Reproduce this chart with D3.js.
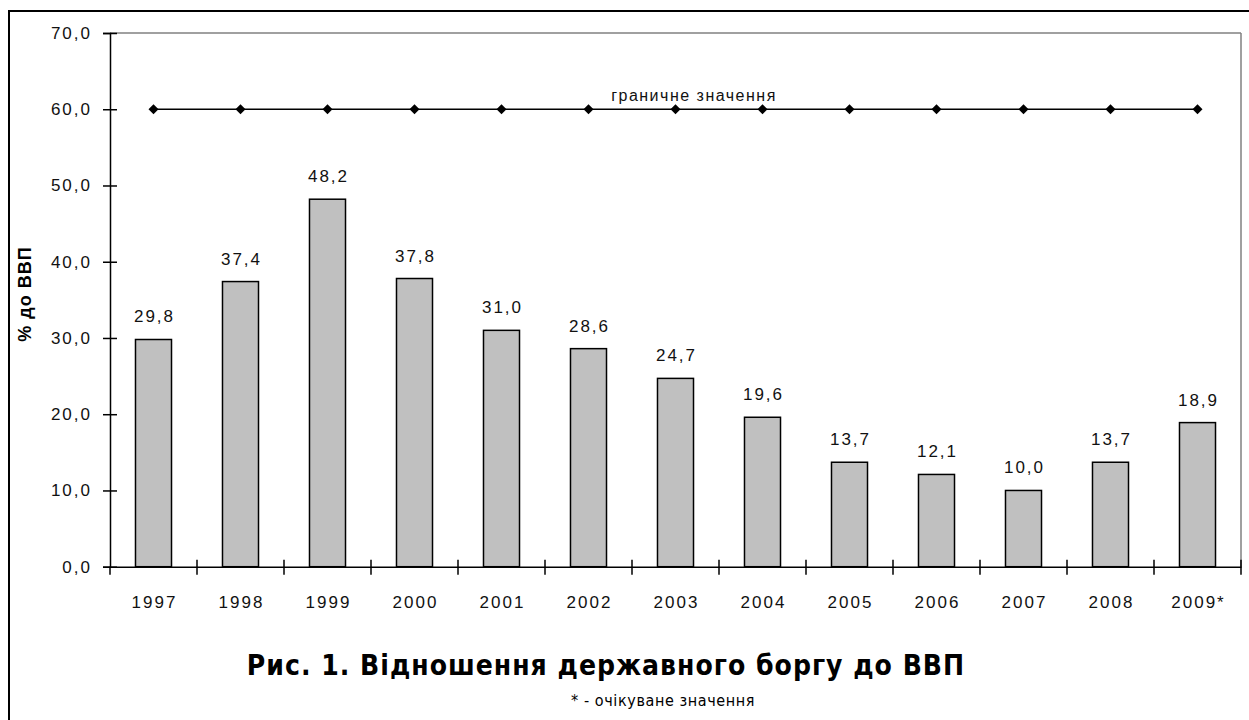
<!DOCTYPE html>
<html>
<head>
<meta charset="utf-8">
<title>Відношення державного боргу до ВВП</title>
<script src="https://d3js.org/d3.v7.min.js"></script>
<style type="text/css">
  body { margin:0; background:white; }
  #chart { position:absolute; top:0; left:0; }
  text { font-family: "Liberation Sans", Arial, sans-serif; }
</style>
</head>
<body>
<div id="chart"></div>
<script type="text/javascript">

var years = ["1997","1998","1999","2000","2001","2002","2003","2004","2005","2006","2007","2008","2009*"];
var debt = [29.8, 37.4, 48.2, 37.8, 31.0, 28.6, 24.7, 19.6, 13.7, 12.1, 10.0, 13.7, 18.9];
var limit = [60,60,60,60,60,60,60,60,60,60,60,60,60];
var yTicks = [0,10,20,30,40,50,60,70];

var width = 1249, height = 720;
var plotLeft = 110, plotRight = 1241, plotTop = 33, plotBottom = 566.7;

var svg = d3.select("#chart").append("svg")
    .attr("width", width)
    .attr("height", height);

svg.append("rect").attr("width", width).attr("height", height).attr("fill", "white");

// outer frame (runs off the right and bottom edges)
svg.append("rect")
   .attr("x", 9).attr("y", 11)
   .attr("width", 1300).attr("height", 800)
   .attr("fill", "none").attr("stroke", "black").attr("stroke-width", 2);

var x = d3.scaleBand().domain(years).range([plotLeft, plotRight]).padding(0);
var y = d3.scaleLinear().domain([0, 70]).range([plotBottom, plotTop]);
var comma = function(v){ return d3.format(".1f")(v).replace(".", ","); };

// gray plot border top / right
svg.append("line").attr("x1", plotLeft).attr("x2", plotRight).attr("y1", y(70)).attr("y2", y(70))
   .attr("stroke", "#808080").attr("stroke-width", 1.5);
svg.append("line").attr("x1", plotRight).attr("x2", plotRight).attr("y1", y(70)).attr("y2", y(0))
   .attr("stroke", "#808080").attr("stroke-width", 1.5);

// bars
var bw = x.bandwidth() * 0.414;
svg.append("g").selectAll("rect")
   .data(debt)
   .enter().append("rect")
   .attr("x", function(d, i){ return x(years[i]) + (x.bandwidth() - bw) / 2; })
   .attr("y", function(d){ return y(d); })
   .attr("width", bw)
   .attr("height", function(d){ return y(0) - y(d); })
   .attr("fill", "#c0c0c0")
   .attr("stroke", "black")
   .attr("stroke-width", 1.5);

// value labels
svg.append("g").selectAll("text")
   .data(debt)
   .enter().append("text")
   .attr("x", function(d, i){ return x(years[i]) + x.bandwidth() / 2 + 1; })
   .attr("y", function(d){ return y(d) - 17; })
   .attr("text-anchor", "middle")
   .attr("font-size", 17)
   .attr("letter-spacing", 2)
   .attr("fill", "#111")
   .text(function(d){ return comma(d); });

// limit line
var line = d3.line()
   .x(function(d, i){ return x(years[i]) + x.bandwidth() / 2; })
   .y(function(d){ return y(d); });
svg.append("path").datum(limit)
   .attr("d", line).attr("fill", "none").attr("stroke", "black").attr("stroke-width", 1.5);
svg.append("g").selectAll("path")
   .data(limit)
   .enter().append("path")
   .attr("d", d3.symbol().type(d3.symbolSquare).size(50))
   .attr("transform", function(d, i){ return "translate(" + (x(years[i]) + x.bandwidth() / 2) + "," + y(d) + ") rotate(45)"; })
   .attr("fill", "black");
svg.append("text")
   .attr("x", 694).attr("y", y(60) - 8)
   .attr("text-anchor", "middle")
   .attr("font-size", 16)
   .attr("letter-spacing", 1.5)
   .attr("fill", "#111")
   .text("граничне значення");

// y axis
var yAxis = svg.append("g")
   .attr("transform", "translate(" + plotLeft + ",0)")
   .call(d3.axisLeft(y).tickValues(yTicks).tickSize(7).tickPadding(11).tickFormat(comma));
yAxis.select(".domain").attr("stroke", "black").attr("stroke-width", 1.5);
yAxis.selectAll(".tick line").attr("x1", 7).attr("x2", -7).attr("stroke", "black").attr("stroke-width", 1.5);
yAxis.selectAll(".tick text").attr("font-size", 17).attr("letter-spacing", 2).attr("fill", "#111")
     .style("font-family", "Liberation Sans, Arial, sans-serif");

// x axis
var xAxis = svg.append("g")
   .attr("transform", "translate(0," + y(0) + ")")
   .call(d3.axisBottom(x).tickSize(0).tickPadding(29).tickSizeOuter(0));
xAxis.select(".domain").attr("stroke", "black").attr("stroke-width", 1.5);
xAxis.selectAll(".tick text").attr("font-size", 17).attr("letter-spacing", 2).attr("dx", 1).attr("fill", "#111")
     .style("font-family", "Liberation Sans, Arial, sans-serif");
svg.append("g").selectAll("line")
   .data(years)
   .enter().append("line")
   .attr("x1", function(d){ return x(d) + x.bandwidth(); })
   .attr("x2", function(d){ return x(d) + x.bandwidth(); })
   .attr("y1", y(0) - 7).attr("y2", y(0) + 8)
   .attr("stroke", "black").attr("stroke-width", 1.5);
svg.append("line")
   .attr("x1", plotLeft).attr("x2", plotLeft).attr("y1", y(0)).attr("y2", y(0) + 8)
   .attr("stroke", "black").attr("stroke-width", 1.5);

// y title
svg.append("text")
   .attr("transform", "translate(31,294) rotate(-90)")
   .attr("text-anchor", "middle")
   .attr("font-size", 18)
   .attr("font-weight", "bold")
   .attr("letter-spacing", 1)
   .text("% до ВВП");

// titles
svg.append("text")
   .attr("x", 606).attr("y", 675)
   .attr("text-anchor", "middle")
   .attr("font-size", 28)
   .attr("font-weight", "bold")
   .attr("letter-spacing", 1)
   .style("font-family", "'Liberation Sans Narrow', 'DejaVu Sans Condensed', sans-serif")
   .text("Рис. 1. Відношення державного боргу до ВВП");
svg.append("text")
   .attr("x", 663).attr("y", 706)
   .attr("text-anchor", "middle")
   .attr("font-size", 16)
   .attr("letter-spacing", 0.6)
   .style("font-family", "'Liberation Sans Narrow', 'DejaVu Sans Condensed', sans-serif")
   .text("* - очікуване значення");

</script>
</body>
</html>
